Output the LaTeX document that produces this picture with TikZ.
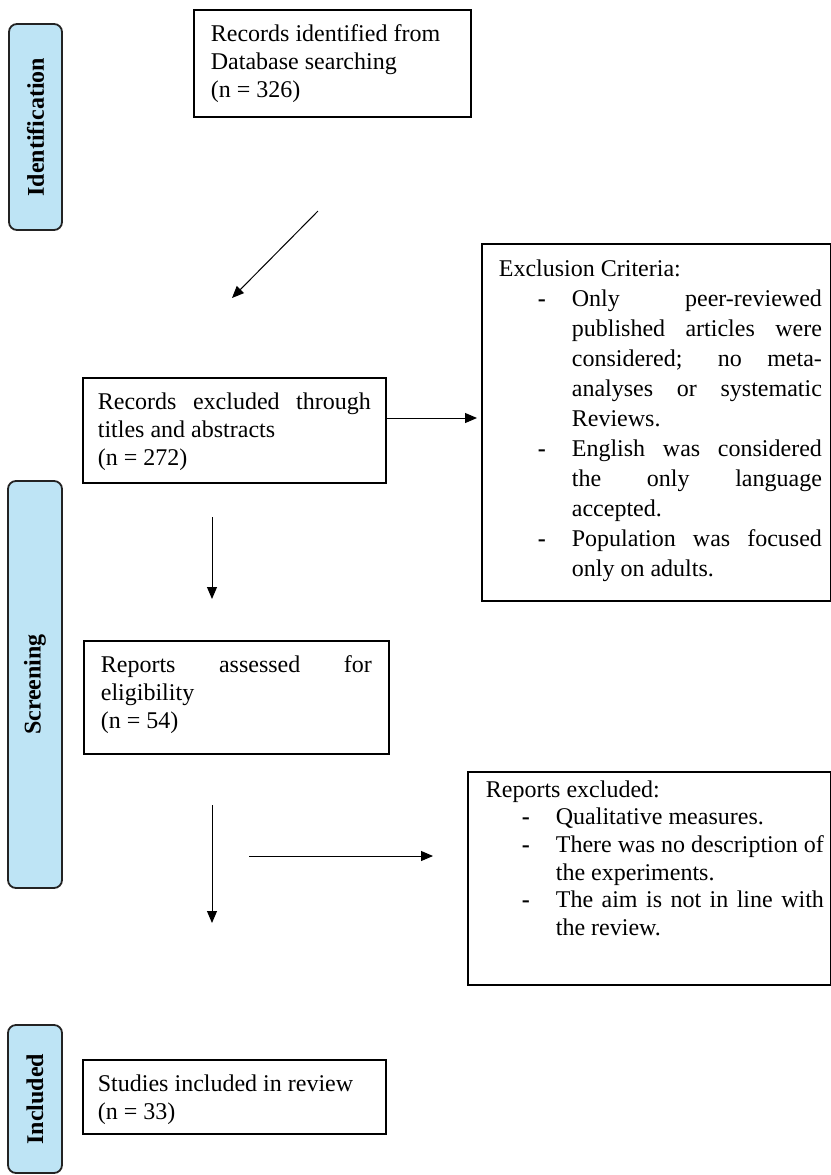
\documentclass[tikz,border=0pt]{standalone}
\usepackage{fontspec}
\setmainfont{Liberation Serif}
\usetikzlibrary{arrows.meta}

\definecolor{phasefill}{RGB}{190,228,245}
\definecolor{phaseline}{RGB}{35,35,35}

% list layout inside the side boxes
\newlength{\itemind}
\newlength{\dashgap}
\newcommand{\critem}[1]{\par\noindent\hangindent=\itemind\hangafter=0\llap{\textbf{-}\hspace{\dashgap}}\ignorespaces#1}
% width, height, left skip, text (top aligned, justified)
\newcommand{\boxtext}[4]{\parbox[c][#2][t]{#1}{\parindent=0pt\leftskip=#3\tolerance=10000\hbadness=10000\hfuzz=6pt\hyphenpenalty=10000\strut#4}}

\begin{document}
\begin{tikzpicture}[
    x=0.5pt, y=-0.5pt,
    phase/.style={draw=phaseline, fill=phasefill, line width=0.9pt, rounded corners=4pt,
                  rotate=90, inner sep=0pt, font=\bfseries\fontsize{12}{14}\selectfont},
    rec/.style={draw=black, line width=0.9pt, anchor=north west, inner xsep=8.5pt,
                inner ysep=6pt, font=\fontsize{12}{14}\selectfont},
    listrec/.style={rec, inner xsep=2pt, inner ysep=3pt, font=\fontsize{12}{13.8}\selectfont},
    flow/.style={-{Triangle[length=6pt, width=5pt]}, line width=0.5pt}
]
\path[use as bounding box] (0,0) rectangle (831,1175);
% Phase labels on the left
\node[phase, minimum width=103pt, minimum height=26.5pt] (idphase) at (35.5,127) {Identification};
\node[phase, minimum width=203.5pt, minimum height=27pt] (scphase) at (35,684.5) {Screening};
\node[phase, minimum width=74pt, minimum height=27pt] (inphase) at (35,1099) {Included};
% Main flow boxes
\node[rec] (found) at (193,9)
    {\boxtext{121.5pt}{41.5pt}{0pt}{Records identified from\\Database searching\\(n = 326)}};
\node[rec, inner xsep=7.5pt] (titles) at (82,377)
    {\boxtext{136.5pt}{40.5pt}{0pt}{Records excluded through\linebreak titles and abstracts\\(n = 272)}};
\node[rec] (assessed) at (83,640)
    {\boxtext{135.5pt}{44.5pt}{0pt}{Reports assessed for\linebreak eligibility\\(n = 54)}};
\node[rec, inner xsep=7.5pt] (studies) at (82,1059)
    {\boxtext{136.5pt}{25pt}{0pt}{Studies included in review\\(n = 33)}};
% Exclusion boxes on the right
\node[listrec, inner ysep=5.8pt, font=\fontsize{12}{15}\selectfont] (crit) at (481,243)
  {\boxtext{170.5pt}{166.9pt}{6.5pt}{%
    \itemind=36.5pt \dashgap=13pt \rightskip=2.5pt
    Exclusion Criteria:
    \critem{Only peer-reviewed\linebreak published articles were\linebreak considered; no meta-\linebreak analyses or systematic\linebreak Reviews.}
    \critem{English was considered\linebreak the only language\linebreak accepted.}
    \critem{Population was focused\linebreak only on adults.}}};
\node[listrec] (excluded) at (467,771) {\boxtext{177.5pt}{100.5pt}{7pt}{%
    \itemind=35pt \dashgap=13pt \rightskip=1.5pt
    Reports excluded:
    \critem{Qualitative measures.}
    \critem{\mbox{There was no description of}\linebreak the experiments.}
    \critem{The aim is not in line with\linebreak the review.}}};
% Arrow ends
\coordinate (d1) at (318,211);
\coordinate (d2) at (232,298);
\coordinate (e1) at (0,418);
\coordinate (v1a) at (212,517);
\coordinate (v1b) at (212,599);
\coordinate (v2a) at (212,805);
\coordinate (v2b) at (212,923);
\coordinate (h2a) at (249,856);
\coordinate (h2b) at (433,856);
% Arrows
\draw[flow] (d1) -- (d2);
\draw[flow, shorten >=2pt] (titles.east |- e1) -- (crit.west |- e1);
\draw[flow] (v1a) -- (v1b);
\draw[flow] (v2a) -- (v2b);
\draw[flow] (h2a) -- (h2b);
\end{tikzpicture}
\end{document}
